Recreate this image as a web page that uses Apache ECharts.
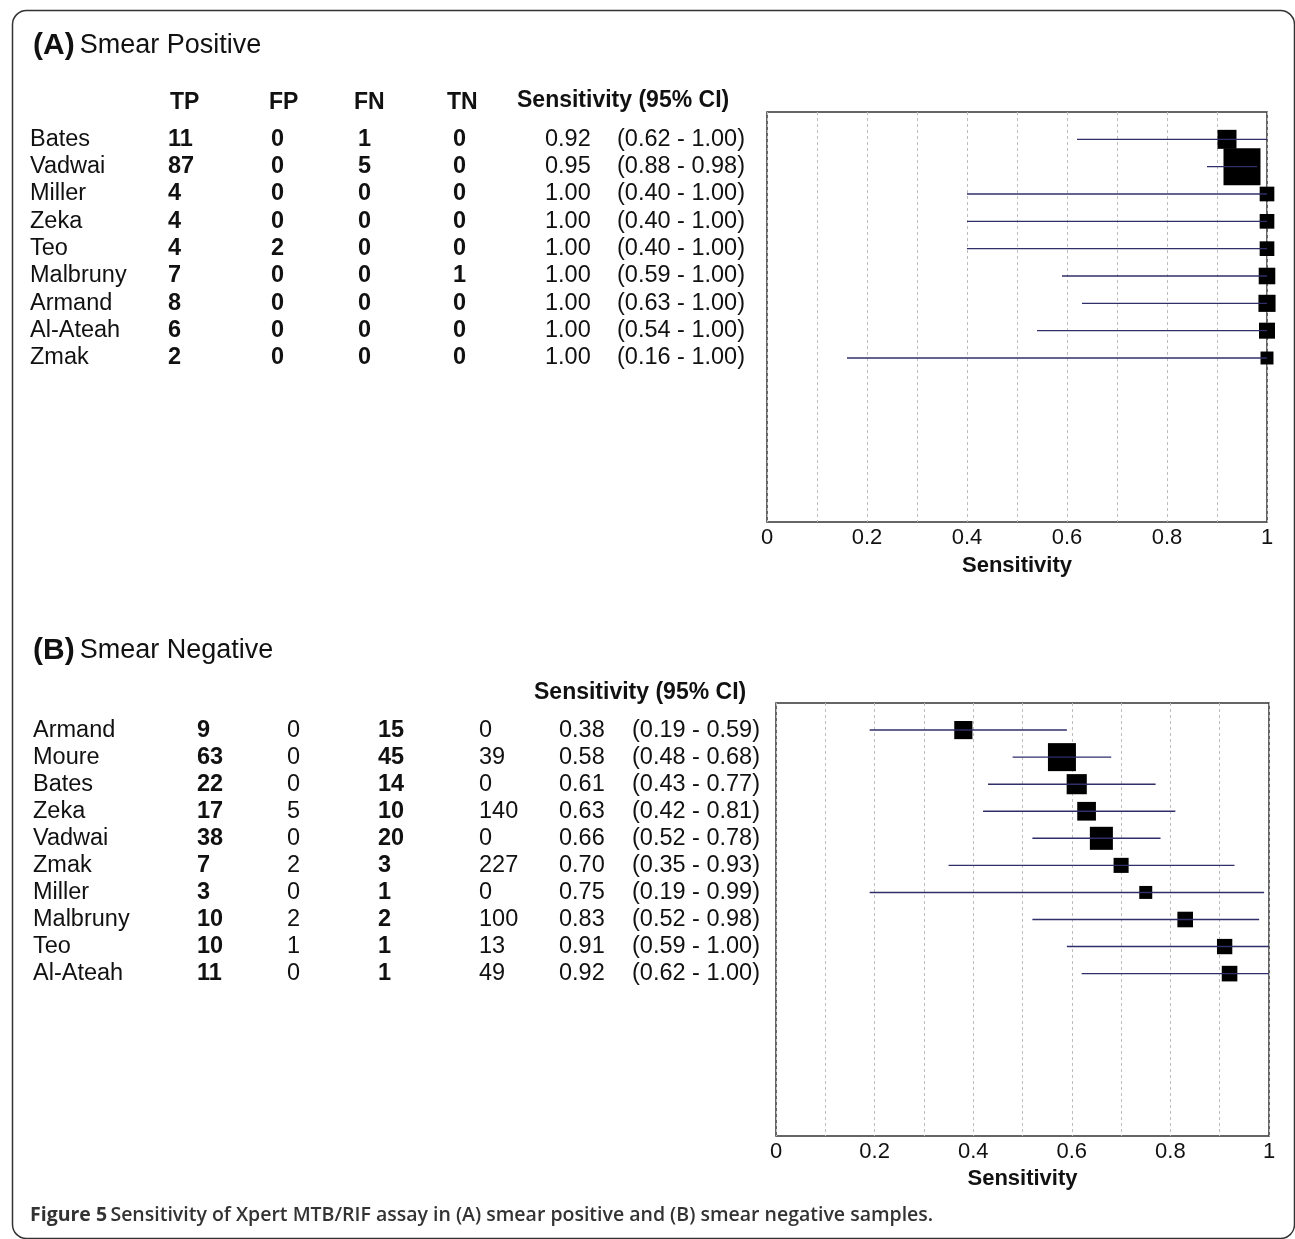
<!DOCTYPE html>
<html>
<head>
<meta charset="utf-8">
<script src="https://cdn.jsdelivr.net/npm/echarts@6/dist/echarts.min.js"></script>
<style>
html,body{margin:0;padding:0;background:#fff;}
#chart{width:1295px;height:1239px;}
</style>
</head>
<body>
<div id="chart"></div>
<script>
// ---------- Panel A: Smear Positive ----------
const studiesA = ['Bates','Vadwai','Miller','Zeka','Teo','Malbruny','Armand','Al-Ateah','Zmak'];
const tpA = [11,87,4,4,4,7,8,6,2];
const fpA = [0,0,0,0,2,0,0,0,0];
const fnA = [1,5,0,0,0,0,0,0,0];
const tnA = [0,0,0,0,0,1,0,0,0];
const sensA = [0.92,0.95,1.00,1.00,1.00,1.00,1.00,1.00,1.00];
const loA = [0.62,0.88,0.40,0.40,0.40,0.59,0.63,0.54,0.16];
const hiA = [1.00,0.98,1.00,1.00,1.00,1.00,1.00,1.00,1.00];

// ---------- Panel B: Smear Negative ----------
const studiesB = ['Armand','Moure','Bates','Zeka','Vadwai','Zmak','Miller','Malbruny','Teo','Al-Ateah'];
const tpB = [9,63,22,17,38,7,3,10,10,11];
const fpB = [0,0,0,5,0,2,0,2,1,0];
const fnB = [15,45,14,10,20,3,1,2,1,1];
const tnB = [0,39,0,140,0,227,0,100,13,49];
const sensB = [0.38,0.58,0.61,0.63,0.66,0.70,0.75,0.83,0.91,0.92];
const loB = [0.19,0.48,0.43,0.42,0.52,0.35,0.19,0.52,0.59,0.62];
const hiB = [0.59,0.68,0.77,0.81,0.78,0.93,0.99,0.98,1.00,1.00];

const xTicks = [0, 0.2, 0.4, 0.6, 0.8, 1];

const FONT = '"Liberation Sans", Arial, Helvetica, sans-serif';
const chart = echarts.init(document.getElementById('chart'), null, {renderer:'canvas'});

const grids = [];
const xAxes = [];
const yAxes = [];
const series = [];
const graphics = [];

function fmt2(v){ return v.toFixed(2); }

function buildPanel(p){
  const gi = grids.length;
  grids.push({left:p.left, top:p.top, width:p.width, height:p.height, show:true,
    borderColor:'#333', borderWidth:1.5, backgroundColor:'transparent'});
  const xi = xAxes.length;
  xAxes.push({
    type:'value', gridIndex:gi, min:0, max:1, interval:0.1,
    axisLine:{show:false}, axisTick:{show:false},
    splitLine:{show:true, lineStyle:{color:'#bdbdbd', type:[3,3], width:1}},
    axisLabel:{fontSize:22, color:'#111', fontFamily:FONT, margin:5,
      formatter:function(v){
        const r = Math.round(v*10);
        if (r % 2 !== 0) return '';
        const t = xTicks.find(x => Math.abs(x - v) < 1e-6);
        return t === undefined ? '' : String(t);
      }},
    name:'Sensitivity', nameLocation:'middle', nameGap:p.nameGap,
    nameTextStyle:{fontSize:22, fontWeight:'bold', color:'#111', fontFamily:FONT}
  });
  const yi = yAxes.length;
  yAxes.push({type:'value', gridIndex:gi, min:0, max:p.slots, interval:1, inverse:true,
    axisLine:{show:false}, axisTick:{show:false}, splitLine:{show:false}, axisLabel:{show:false}});
  // text columns via axis labels
  p.cols.forEach(c => {
    yAxes.push({type:'value', gridIndex:gi, min:0, max:p.slots, interval:1, inverse:true,
      position:'left', offset:p.left - c.x,
      axisLine:{show:false}, axisTick:{show:false}, splitLine:{show:false},
      axisLabel:{margin:0, align:c.align || 'left', fontSize:23.5, color:'#111',
        fontFamily:FONT, fontWeight:c.bold ? 'bold' : 'normal',
        formatter:function(v){
          const r = Math.round(v);
          if (Math.abs(v - r) > 1e-6) return '';
          const i = r - 1;
          return (i >= 0 && i < c.vals.length) ? String(c.vals[i]) : '';
        }}
    });
  });
  const n = p.tp.map((t,i) => t + p.fn[i]);
  series.push({
    type:'scatter', xAxisIndex:xi, yAxisIndex:yi, symbol:'rect',
    data:p.sens.map((s,i) => [s, i+1, n[i]]),
    symbolSize:function(val){ return p.sizeA + p.sizeB*Math.sqrt(val[2]); },
    itemStyle:{color:'#000', opacity:1}, z:2, silent:true
  });
  series.push({
    type:'custom', xAxisIndex:xi, yAxisIndex:yi, z:3, silent:true,
    data:p.lo.map((l,i) => [l, p.hi[i], i+1]),
    encode:{x:[0,1], y:2},
    renderItem:function(params, api){
      const a = api.coord([api.value(0), api.value(2)]);
      const b = api.coord([api.value(1), api.value(2)]);
      return {type:'line', shape:{x1:a[0], y1:a[1], x2:b[0], y2:b[1]},
        style:{stroke:'#2f2f6a', lineWidth:1.4}};
    }
  });
}

buildPanel({
  left:767, top:112, width:500, height:410, slots:15, nameGap:33,
  tp:tpA, fn:fnA, sens:sensA, lo:loA, hi:hiA, sizeA:8.8, sizeB:2.94,
  cols:[
    {x:30, vals:studiesA},
    {x:168, vals:tpA, bold:true},
    {x:271, vals:fpA, bold:true},
    {x:358, vals:fnA, bold:true},
    {x:453, vals:tnA, bold:true},
    {x:545, vals:sensA.map(fmt2)},
    {x:617, vals:loA.map((l,i) => '(' + fmt2(l) + ' - ' + fmt2(hiA[i]) + ')')}
  ]
});

buildPanel({
  left:776, top:703, width:493, height:433, slots:16, nameGap:32,
  tp:tpB, fn:fnB, sens:sensB, lo:loB, hi:hiB, sizeA:9.4, sizeB:1.79,
  cols:[
    {x:33, vals:studiesB},
    {x:197, vals:tpB, bold:true},
    {x:287, vals:fpB},
    {x:378, vals:fnB, bold:true},
    {x:479, vals:tnB},
    {x:559, vals:sensB.map(fmt2)},
    {x:632, vals:loB.map((l,i) => '(' + fmt2(l) + ' - ' + fmt2(hiB[i]) + ')')}
  ]
});

function hdr(txt, x, y){
  return {type:'text', left:x, top:y - 12, silent:true,
    style:{text:txt, fontSize:23, fontWeight:'bold', fill:'#111', fontFamily:FONT}};
}
graphics.push({type:'rect', left:10, top:8, silent:true, z:-1,
  shape:{width:1282, height:1228, r:14},
  style:{fill:'none', stroke:'#333', lineWidth:1.5}});
graphics.push(hdr('TP', 170, 103), hdr('FP', 269, 103), hdr('FN', 354, 103), hdr('TN', 447, 103),
  hdr('Sensitivity (95% CI)', 517, 101), hdr('Sensitivity (95% CI)', 534, 693));
graphics.push({type:'text', left:30, top:1205, silent:true,
  style:{rich:{a:{fontSize:19.5, fontWeight:'bold', fill:'#333', fontFamily:'"Open Sans", "Liberation Sans", sans-serif'},
               b:{fontSize:19.5, fontWeight:600, fill:'#333', fontFamily:'"Open Sans", "Liberation Sans", sans-serif'}},
    text:'{a|Figure 5} {b|Sensitivity of Xpert MTB/RIF assay in (A) smear positive and (B) smear negative samples.}'}});

const titleRich = {
  a:{fontSize:30, fontWeight:'bold', color:'#111', fontFamily:'"Liberation Sans Narrow", ' + FONT},
  b:{fontSize:27, fontWeight:'normal', color:'#111', fontFamily:'"Liberation Sans Narrow", ' + FONT}
};

chart.setOption({
  animation:false,
  backgroundColor:'#fff',
  title:[
    {text:'{a|(A)} {b|Smear Positive}', left:28, top:26, textStyle:{fontWeight:'normal', rich:titleRich}},
    {text:'{a|(B)} {b|Smear Negative}', left:28, top:631, textStyle:{fontWeight:'normal', rich:titleRich}}
  ],
  grid:grids,
  xAxis:xAxes,
  yAxis:yAxes,
  series:series,
  graphic:graphics
});
</script>
</body>
</html>
